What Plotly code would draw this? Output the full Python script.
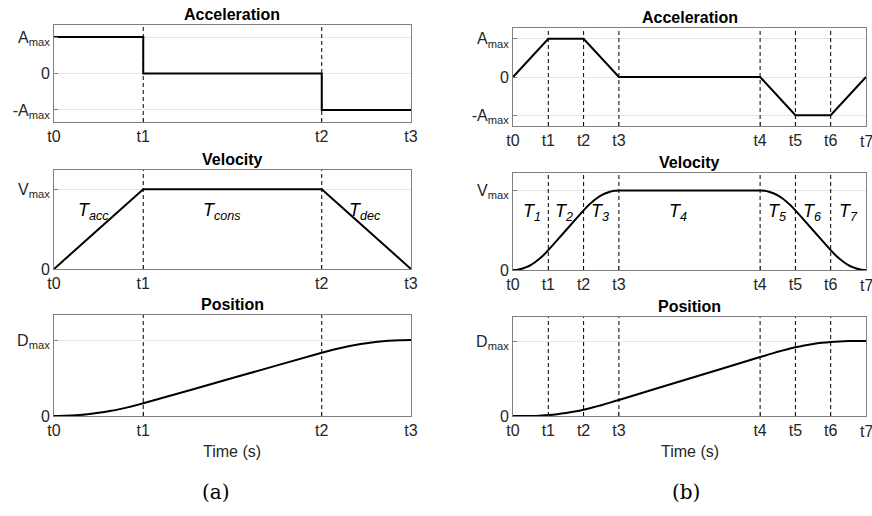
import plotly.graph_objects as go

# ---------------- data ----------------
# (a) trapezoidal profile, time in units; t-labels at 0,1,3,4
a_t_ticks = [0, 1, 3, 4]
a_t_labels = ["t0", "t1", "t2", "t3"]
a_acc_t = [0, 1, 1, 3, 3, 4]
a_acc_v = [1, 1, 0, 0, -1, -1]
a_vel_t = [0, 1, 3, 4]
a_vel_v = [0, 1, 1, 0]
a_pos_t = [0, 0.125, 0.25, 0.375, 0.5, 0.625, 0.75, 0.875, 1, 2, 3,
           3.125, 3.25, 3.375, 3.5, 3.625, 3.75, 3.875, 4]
a_pos_v = [0, 0.0026, 0.0104, 0.0234, 0.0417, 0.0651, 0.0938, 0.1276, 0.1667,
           0.5, 0.8333, 0.8724, 0.9063, 0.9349, 0.9583, 0.9766, 0.9896, 0.9974, 1]
a_seg_labels = ["T<sub>acc</sub>", "T<sub>cons</sub>", "T<sub>dec</sub>"]
a_seg_x = [0.44, 1.88, 3.48]

# (b) S-curve profile; t-labels at 0,1,2,3,7,8,9,10
b_t_ticks = [0, 1, 2, 3, 7, 8, 9, 10]
b_t_labels = ["t0", "t1", "t2", "t3", "t4", "t5", "t6", "t7"]
b_acc_t = [0, 1, 2, 3, 7, 8, 9, 10]
b_acc_v = [0, 1, 1, 0, 0, -1, -1, 0]
b_vel_t = [0, 0.125, 0.25, 0.375, 0.5, 0.625, 0.75, 0.875, 1, 1.5, 2,
           2.125, 2.25, 2.375, 2.5, 2.625, 2.75, 2.875, 3, 5, 7,
           7.125, 7.25, 7.375, 7.5, 7.625, 7.75, 7.875, 8, 8.5, 9,
           9.125, 9.25, 9.375, 9.5, 9.625, 9.75, 9.875, 10]
b_vel_v = [0, 0.0039, 0.0156, 0.0352, 0.0625, 0.0977, 0.1406, 0.1914, 0.25, 0.5, 0.75,
           0.8086, 0.8594, 0.9023, 0.9375, 0.9648, 0.9844, 0.9961, 1, 1, 1,
           0.9961, 0.9844, 0.9648, 0.9375, 0.9023, 0.8594, 0.8086, 0.75, 0.5, 0.25,
           0.1914, 0.1406, 0.0977, 0.0625, 0.0352, 0.0156, 0.0039, 0]
b_pos_t = [0, 0.25, 0.5, 0.75, 1, 1.25, 1.5, 1.75, 2, 2.25, 2.5, 2.75, 3, 5, 7,
           7.25, 7.5, 7.75, 8, 8.25, 8.5, 8.75, 9, 9.25, 9.5, 9.75, 10]
b_pos_v = [0, 0.0002, 0.0015, 0.0050, 0.0119, 0.0231, 0.0387, 0.0588, 0.0833,
           0.1122, 0.1443, 0.1788, 0.2143, 0.5, 0.7857,
           0.8212, 0.8557, 0.8878, 0.9167, 0.9412, 0.9613, 0.9769, 0.9881,
           0.9950, 0.9985, 0.9998, 1]
b_seg_labels = ["T<sub>1</sub>", "T<sub>2</sub>", "T<sub>3</sub>", "T<sub>4</sub>",
                "T<sub>5</sub>", "T<sub>6</sub>", "T<sub>7</sub>"]
b_seg_x = [0.54, 1.45, 2.46, 4.67, 7.48, 8.47, 9.49]

acc_ticks = [-1, 0, 1]
acc_labels = ["-A<sub>max</sub>", "0", "A<sub>max</sub>"]
vel_ticks = [0, 1]
vel_labels = ["0", "V<sub>max</sub>"]
pos_ticks = [0, 1]
pos_labels = ["0", "D<sub>max</sub>"]
titles = ["Acceleration", "Velocity", "Position"]

# ---------------- layout geometry ----------------
W, H = 872, 516
FONT = "Liberation Sans, Arial, Helvetica, sans-serif"
TXT = "#262626"
BOX = "#808080"

def py(px):
    return 1 - px / H

col_x = [(54 / W, 411 / W), (513 / W, 866 / W)]
row_y = {
    0: [(py(122), py(25)), (py(269), py(170)), (py(416), py(315))],
    1: [(py(126), py(28)), (py(270), py(173)), (py(416), py(317))],
}
yranges = {
    0: [[-1.33, 1.33], [0, 1.24], [0, 1.33]],
    1: [[-1.28, 1.28], [0, 1.22], [0, 1.32]],
}

fig = go.Figure()
layout = dict(width=W, height=H, margin=dict(l=0, r=0, t=0, b=0, pad=0),
              autosize=False, template="none",
              paper_bgcolor="white", plot_bgcolor="white", showlegend=False,
              font=dict(family=FONT, size=16, color=TXT))
annotations = []
shapes = []

panels = [
    (0, a_t_ticks, a_t_labels, [(a_acc_t, a_acc_v, "linear"), (a_vel_t, a_vel_v, "linear"),
                                (a_pos_t, a_pos_v, "spline")]),
    (1, b_t_ticks, b_t_labels, [(b_acc_t, b_acc_v, "linear"), (b_vel_t, b_vel_v, "spline"),
                                (b_pos_t, b_pos_v, "spline")]),
]
ytick_sets = [(acc_ticks, acc_labels), (vel_ticks, vel_labels), (pos_ticks, pos_labels)]

idx = 0
for col, tt, tl, series in panels:
    for row in range(3):
        idx += 1
        xa = "xaxis" if idx == 1 else f"xaxis{idx}"
        ya = "yaxis" if idx == 1 else f"yaxis{idx}"
        xr = "x" if idx == 1 else f"x{idx}"
        yr = "y" if idx == 1 else f"y{idx}"
        xs, ys, shp = series[row]
        fig.add_trace(go.Scatter(x=xs, y=ys, mode="lines", xaxis=xr, yaxis=yr,
                                 line=dict(color="black", width=2, shape=shp,
                                           smoothing=0.6)))
        # last tick label of the right column sits at the page edge; draw it
        # as an annotation so it is clipped (not dropped) like the reference
        ticktext = list(tl)
        if col == 1:
            ticktext[-1] = ""
            annotations.append(dict(text=tl[-1], x=tt[-1], xref=xr,
                                    yref=f"{yr} domain", y=0, yanchor="middle",
                                    xanchor="center", yshift=-15, showarrow=False,
                                    font=dict(size=16, color=TXT, family=FONT)))
        layout[xa] = dict(domain=list(col_x[col]), anchor=yr, range=[tt[0], tt[-1]],
                          automargin=False,
                          tickmode="array", tickvals=tt, ticktext=ticktext,
                          showgrid=False, zeroline=False, showline=True, mirror=True,
                          linecolor=BOX, linewidth=1, ticks="inside", ticklen=4,
                          tickcolor=BOX, tickfont=dict(size=16, color=TXT, family=FONT))
        yt, yl = ytick_sets[row]
        layout[ya] = dict(domain=list(row_y[col][row]), anchor=xr,
                          range=yranges[col][row], tickmode="array", automargin=False,
                          tickvals=yt, ticktext=yl, showgrid=True,
                          gridcolor="#e6e6e6", gridwidth=1, zeroline=False,
                          showline=True, mirror=True, linecolor=BOX, linewidth=1,
                          ticks="inside", ticklen=4, tickcolor=BOX,
                          tickfont=dict(size=16, color=TXT, family=FONT))
        # vertical dashed markers at interior breakpoints
        for t in tt[1:-1]:
            shapes.append(dict(type="line", xref=xr, yref=f"{yr} domain",
                               x0=t, x1=t, y0=0, y1=1, layer="above",
                               line=dict(color="black", width=1, dash="4px,3px")))
        # title
        annotations.append(dict(text=f"<b>{titles[row]}</b>", xref=f"{xr} domain",
                                yref=f"{yr} domain", x=0.5, y=1, yanchor="bottom",
                                xanchor="center", showarrow=False, yshift=0,
                                font=dict(size=16, color="black", family=FONT)))
        if row == 1:
            segx = a_seg_x if col == 0 else b_seg_x
            segl = a_seg_labels if col == 0 else b_seg_labels
            for sx, sl in zip(segx, segl):
                annotations.append(dict(text=f"<i>{sl}</i>", x=sx, y=0.72, xref=xr,
                                        yref=yr, showarrow=False, xanchor="center",
                                        yanchor="middle",
                                        font=dict(size=18, color="black", family=FONT)))
        if row == 2:
            annotations.append(dict(text="Time (s)", xref=f"{xr} domain", yref="paper",
                                    x=0.5, y=py(451), yanchor="middle", showarrow=False,
                                    font=dict(size=16, color=TXT, family=FONT)))

annotations.append(dict(text="(a)", xref="paper", yref="paper", x=200 / W, y=py(492),
                        showarrow=False, yanchor="middle",
                        font=dict(size=20, color="black", family="DejaVu Serif")))
annotations.append(dict(text="(b)", xref="paper", yref="paper", x=702 / W, y=py(492),
                        showarrow=False, yanchor="middle",
                        font=dict(size=20, color="black", family="DejaVu Serif")))

layout["annotations"] = annotations
layout["shapes"] = shapes
fig.update_layout(**layout)
fig.write_html("out.html")
